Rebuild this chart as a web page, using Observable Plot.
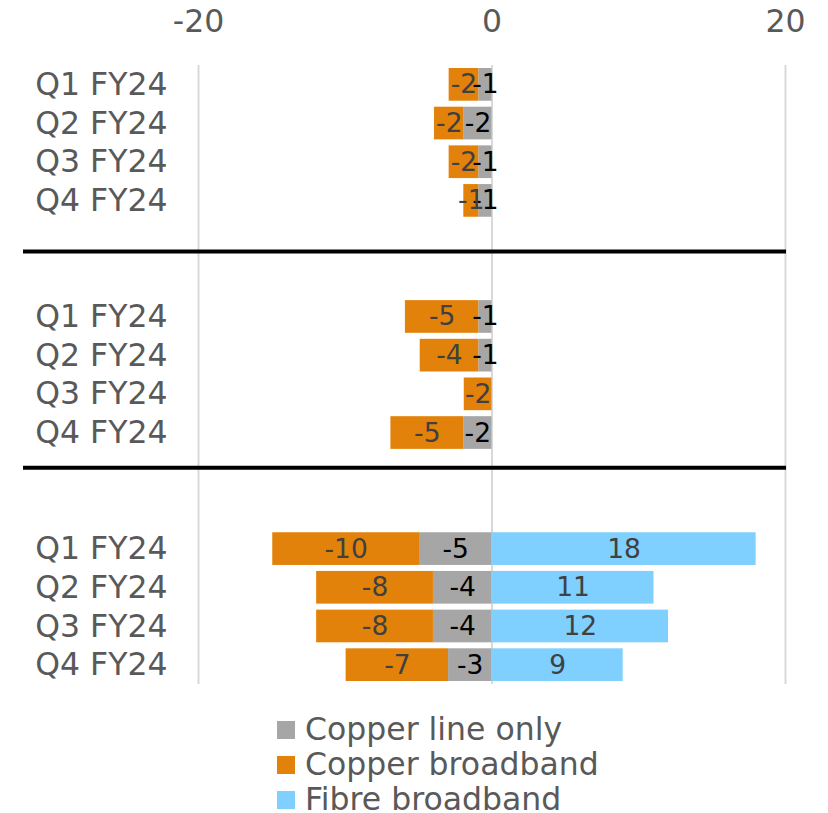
<!DOCTYPE html>
<html>
<head>
<meta charset="utf-8">
<script src="https://cdn.jsdelivr.net/npm/d3@7"></script>
<script src="https://cdn.jsdelivr.net/npm/@observablehq/plot@0.6"></script>
<style>
  html, body { margin: 0; padding: 0; background: #fff; }
  body { width: 828px; font-family: "DejaVu Sans", Verdana, sans-serif; }
  #legend { margin-top: 12px; padding-left: 277px; color: #595959; font-size: 31.5px; }
  #legend .item { display: flex; align-items: center; height: 35px; line-height: 35px; }
  #legend .sw { width: 18px; height: 18px; margin-right: 10px; flex: none; }
</style>
</head>
<body>
<div id="chart"></div>
<div id="legend"></div>
<script>
// ---- data ----
const quarters = ["Q1 FY24", "Q2 FY24", "Q3 FY24", "Q4 FY24"];
const groupIds = ["g1", "g2", "g3"];
const seriesNames = ["Copper line only", "Copper broadband", "Fibre broadband"];
const seriesColors = ["#A6A6A6", "#E3820A", "#7FCFFF"];
// values per row, group by group, Q1..Q4
const copperLineOnly  = [-0.9, -1.9, -0.9, -0.9,   -0.9, -0.9, 0, -1.93,   -4.94, -3.99, -3.99, -2.96];
const copperBroadband = [-2.02, -2.02, -2.02, -1.02, -5.0, -3.99, -1.89, -4.96, -10.0, -7.96, -7.96, -6.98];
const fibreBroadband  = [0, 0, 0, 0,   0, 0, 0, 0,   18.0, 11.04, 12.03, 8.94];
const xTicks = [-20, 0, 20];

// ---- build table ----
const rowKeys = [];
const rowLabel = {};
groupIds.forEach((g, gi) => {
  quarters.forEach((q, qi) => { const k = g + "_" + qi; rowKeys.push(k); rowLabel[k] = q; });
  if (gi < groupIds.length - 1) {
    ["a", "b"].forEach(s => { const k = "gap" + (gi + 1) + s; rowKeys.push(k); rowLabel[k] = ""; });
  }
});
const dataRows = rowKeys.filter(k => !k.startsWith("gap"));
const seriesValues = [copperLineOnly, copperBroadband, fibreBroadband];
const table = [];
dataRows.forEach((row, i) => {
  seriesNames.forEach((s, si) => {
    table.push({row, series: s, value: seriesValues[si][i]});
  });
});
const fmt = v => String(Math.round(v));
const labelFor = (pred) => d => (d.value !== 0 && pred(d.series)) ? fmt(d.value) : null;

const chart = Plot.plot({
  width: 828,
  height: 700,
  marginTop: 65,
  marginBottom: 16,
  marginLeft: 198,
  marginRight: 43,
  style: {fontFamily: "\"DejaVu Sans\", Verdana, sans-serif", background: "#fff"},
  x: {domain: [-20, 20], ticks: xTicks, axis: null},
  y: {domain: rowKeys, paddingInner: 0.155, paddingOuter: 0.0775, round: false, axis: null},
  color: {domain: seriesNames, range: seriesColors},
  marks: [
    Plot.gridX(xTicks, {stroke: "#D9D9D9", strokeOpacity: 1, strokeWidth: 2}),
    Plot.barX(table, Plot.stackX({
      x: "value", y: "row", fill: "series", z: "series", order: seriesNames
    })),
    Plot.text(table, Plot.stackX({
      x: "value", y: "row", z: "series", order: seriesNames,
      text: labelFor(s => s === "Copper line only"), fill: "#000", fontSize: 26.5
    })),
    Plot.text(table, Plot.stackX({
      x: "value", y: "row", z: "series", order: seriesNames,
      text: labelFor(s => s !== "Copper line only"), fill: "#404040", fontSize: 26.5
    })),
    Plot.ruleY(["gap1a"], {stroke: "#000", strokeWidth: 4, dy: 12, insetLeft: -175, insetRight: -1}),
    Plot.ruleY(["gap2a"], {stroke: "#000", strokeWidth: 4, dy: -4, insetLeft: -175, insetRight: -1}),
    Plot.axisX(xTicks, {anchor: "top", tickSize: 0, tickPadding: 34, fontSize: 31.5, color: "#595959", label: null, tickFormat: d => String(d)}),
    Plot.axisY({anchor: "left", tickSize: 0, tickPadding: 31, fontSize: 31.5, color: "#595959", label: null, tickFormat: d => rowLabel[d]})
  ]
});
document.getElementById("chart").appendChild(chart);

const legend = document.getElementById("legend");
seriesNames.forEach((s, i) => {
  const item = document.createElement("div");
  item.className = "item";
  const sw = document.createElement("span");
  sw.className = "sw";
  sw.style.background = seriesColors[i];
  const t = document.createElement("span");
  t.textContent = s;
  item.appendChild(sw);
  item.appendChild(t);
  legend.appendChild(item);
});
</script>
</body>
</html>
